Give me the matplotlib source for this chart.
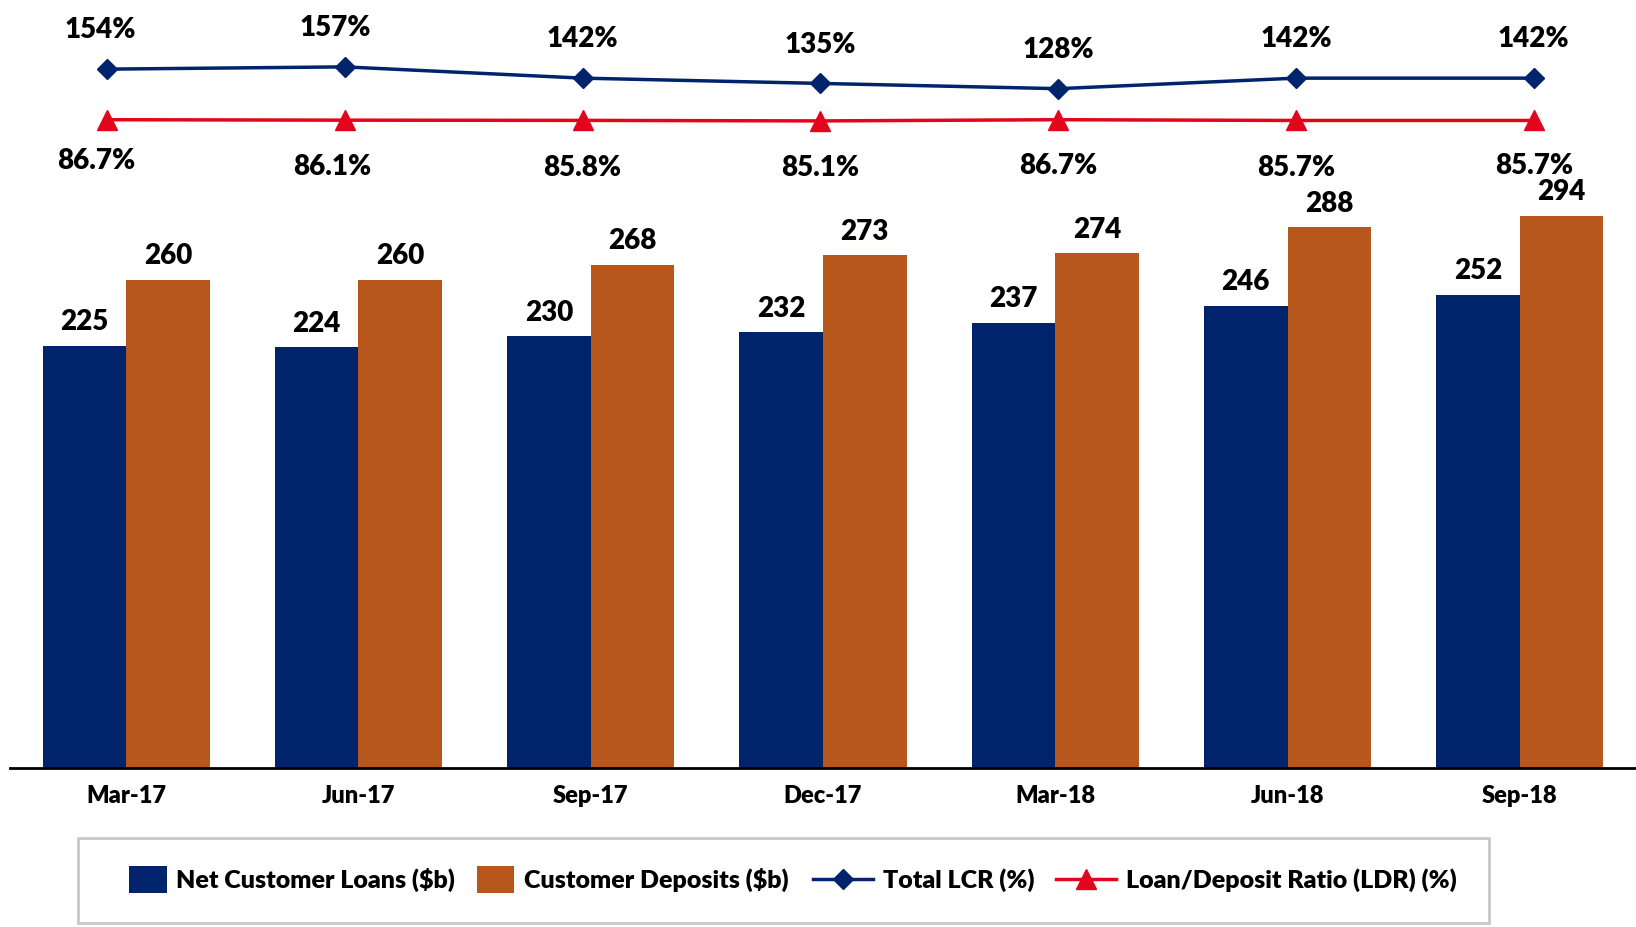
import numpy as np
import matplotlib
matplotlib.use("Agg")
import matplotlib.pyplot as plt
import matplotlib.patches as mpatches
from matplotlib.container import BarContainer
from matplotlib.legend_handler import HandlerPatch

# dados do gráfico
trimestres = ["Mar-17", "Jun-17", "Sep-17", "Dec-17", "Mar-18", "Jun-18", "Sep-18"]
emprestimos = [225, 224, 230, 232, 237, 246, 252]
depositos = [260, 260, 268, 273, 274, 288, 294]
lcr = [154, 157, 142, 135, 128, 142, 142]
ldr = [86.7, 86.1, 85.8, 85.1, 86.7, 85.7, 85.7]

azul = "#00246B"
laranja = "#B8571C"
vermelho = "#E3051B"

plt.rcParams["font.family"] = ["Lato", "DejaVu Sans"]
plt.rcParams["font.weight"] = "bold"
peso = 800

fig = plt.figure(figsize=(16.36, 9.27), dpi=100)
pos = [10 / 1636, 159 / 927, 1 - 10 / 1636, 768 / 927]
ax = fig.add_axes(pos)

x = np.arange(len(trimestres))
largura = 0.36

# barras
b1 = ax.bar(x - largura / 2, emprestimos, largura, color=azul, label="Net Customer Loans ($b)")
b2 = ax.bar(x + largura / 2, depositos, largura, color=laranja, label="Customer Deposits ($b)")

for barras in (b1, b2):
    for b in barras:
        ax.annotate(f"{b.get_height():.0f}", (b.get_x() + b.get_width() / 2, b.get_height()),
                    xytext=(0, 17), textcoords="offset points", ha="center", va="center",
                    fontsize=20, fontweight=peso, color="black")

ax.set_xlim(-0.5, len(trimestres) - 0.5)
ax.set_ylim(0, 409)
ax.set_xticks(x)
ax.set_xticklabels(trimestres, fontsize=17, fontweight=peso)
ax.tick_params(axis="x", length=0, pad=12)
ax.set_yticks([])
for lado in ["top", "right", "left"]:
    ax.spines[lado].set_visible(False)
ax.spines["bottom"].set_linewidth(2)
ax.spines["bottom"].set_color("black")

# linhas (eixo proprio, com escala x diferente das barras)
ax2 = fig.add_axes(pos, frameon=False)
ax2.set_xlim(-0.4085, 6.43)
ax2.set_ylim(-776, 246)
ax2.set_xticks([])
ax2.set_yticks([])

l1, = ax2.plot(x, lcr, color=azul, lw=2.5, marker="D", markersize=10.5, label="Total LCR (%)")
l2, = ax2.plot(x, ldr, color=vermelho, lw=2.5, marker="^", markersize=15,
               label="Loan/Deposit Ratio (LDR) (%)")

# deslocamentos dos rotulos (pontos)
desl_lcr = [(-5, 28), (-7, 28), (0, 28), (0, 28), (0, 28), (0, 28), (0, 28)]
desl_ldr = [(-8, -30), (-9, -34), (0, -34), (0, -34), (0, -33), (0, -34), (0, -33)]

for i in range(len(trimestres)):
    ax2.annotate(f"{lcr[i]}%", (x[i], lcr[i]), xytext=desl_lcr[i], textcoords="offset points",
                 ha="center", va="center", fontsize=20, fontweight=peso)
    ax2.annotate(f"{ldr[i]:.1f}%", (x[i], ldr[i]), xytext=desl_ldr[i], textcoords="offset points",
                 ha="center", va="center", fontsize=20, fontweight=peso)


# quadrado um pouco mais alto para as barras na legenda
def quadrado(legend, orig_handle, xdescent, ydescent, width, height, fontsize):
    return mpatches.Rectangle((-xdescent, -ydescent - height * 0.1), width, height * 1.2)


def copia_estilo(legend_handle, orig_handle):
    legend_handle.update_from(orig_handle[0])


# duas legendas (barras e linhas têm tamanhos de símbolo diferentes) e uma moldura comum
yleg = 47 / 927
opcoes = dict(fontsize=18, frameon=False, borderpad=0, borderaxespad=0,
              handletextpad=0.4, columnspacing=0.85, ncol=2, loc="center left")
legA = fig.legend(handles=[b1, b2], bbox_to_anchor=(129 / 1636, yleg), handlelength=1.5,
                  handleheight=1.0,
                  handler_map={BarContainer: HandlerPatch(patch_func=quadrado, update_func=copia_estilo)},
                  **opcoes)
legB = fig.legend(handles=[l1, l2], bbox_to_anchor=(813 / 1636, yleg), handlelength=2.4, **opcoes)
for leg in (legA, legB):
    for t in leg.get_texts():
        t.set_fontweight(peso)

moldura = mpatches.Rectangle((78 / 1636, 4 / 927), 1411 / 1636, 85 / 927, transform=fig.transFigure,
                             fill=False, edgecolor="#C8C8C8", linewidth=2)
fig.add_artist(moldura)

fig.savefig("out.png", dpi=100)
